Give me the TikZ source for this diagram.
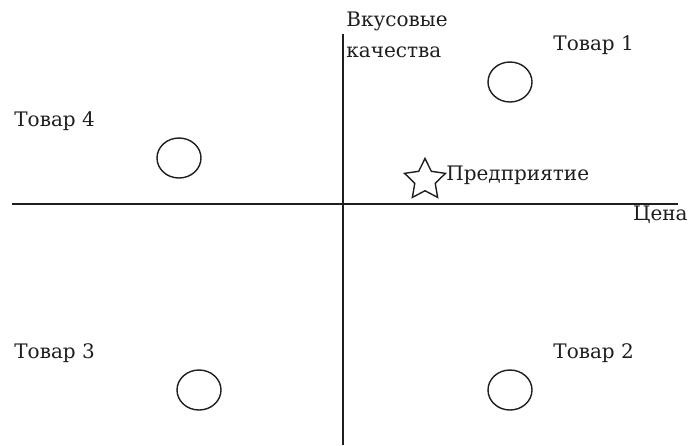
\documentclass[tikz,border=0pt]{standalone}
\usepackage{fontspec}
\setmainfont{DejaVu Serif}
\usepackage{tikz}
\usetikzlibrary{positioning,shapes.geometric}
\usepackage{xcolor}
\definecolor{ink}{RGB}{30,30,30}
\tikzset{
  axis/.style={draw=ink,line width=1pt},
  good/.style={ellipse,draw=ink,line width=0.7pt,minimum width=22pt,minimum height=20pt,inner sep=0pt},
  firm/.style={star,star points=5,star point ratio=2,draw=ink,line width=0.7pt,minimum size=21.5pt,inner sep=0pt},
  lbl/.style={inner sep=0pt,anchor=base west,text=ink,font=\fontsize{10}{12}\selectfont},
}
\begin{document}
\begin{tikzpicture}[x=0.5pt,y=-0.5pt]
  \useasboundingbox (0,0) rectangle (689,445);
  \coordinate (xl) at (12,204);
  \coordinate (xr) at (678,204);
  \coordinate (yb) at (343,445);
  \coordinate (yt) at (343,34);
  \draw[axis] (xl) -- (xr);
  \draw[axis] (yb) -- (yt);
  \node[lbl] (taste1) at (346,26) {Вкусовые};
  \node[lbl] (taste2) at (346,57) {качества};
  \node[lbl,anchor=base east] (price) at (688,220) {Цена};
  \node[good] (g1) at (510,82) {};
  \node[good] (g2) at (510,390) {};
  \node[good] (g3) at (199,390) {};
  \node[good] (g4) at (179,158) {};
  \node[lbl] (t1) at (553,50) {Товар 1};
  \node[lbl] (t2) at (553,358) {Товар 2};
  \node[lbl] (t3) at (14,358) {Товар 3};
  \node[lbl] (t4) at (14,126) {Товар 4};
  \node[firm] (firm) at (425,180) {};
  \node[lbl] (firmtxt) at (446,180) {Предприятие};
\end{tikzpicture}
\end{document}
